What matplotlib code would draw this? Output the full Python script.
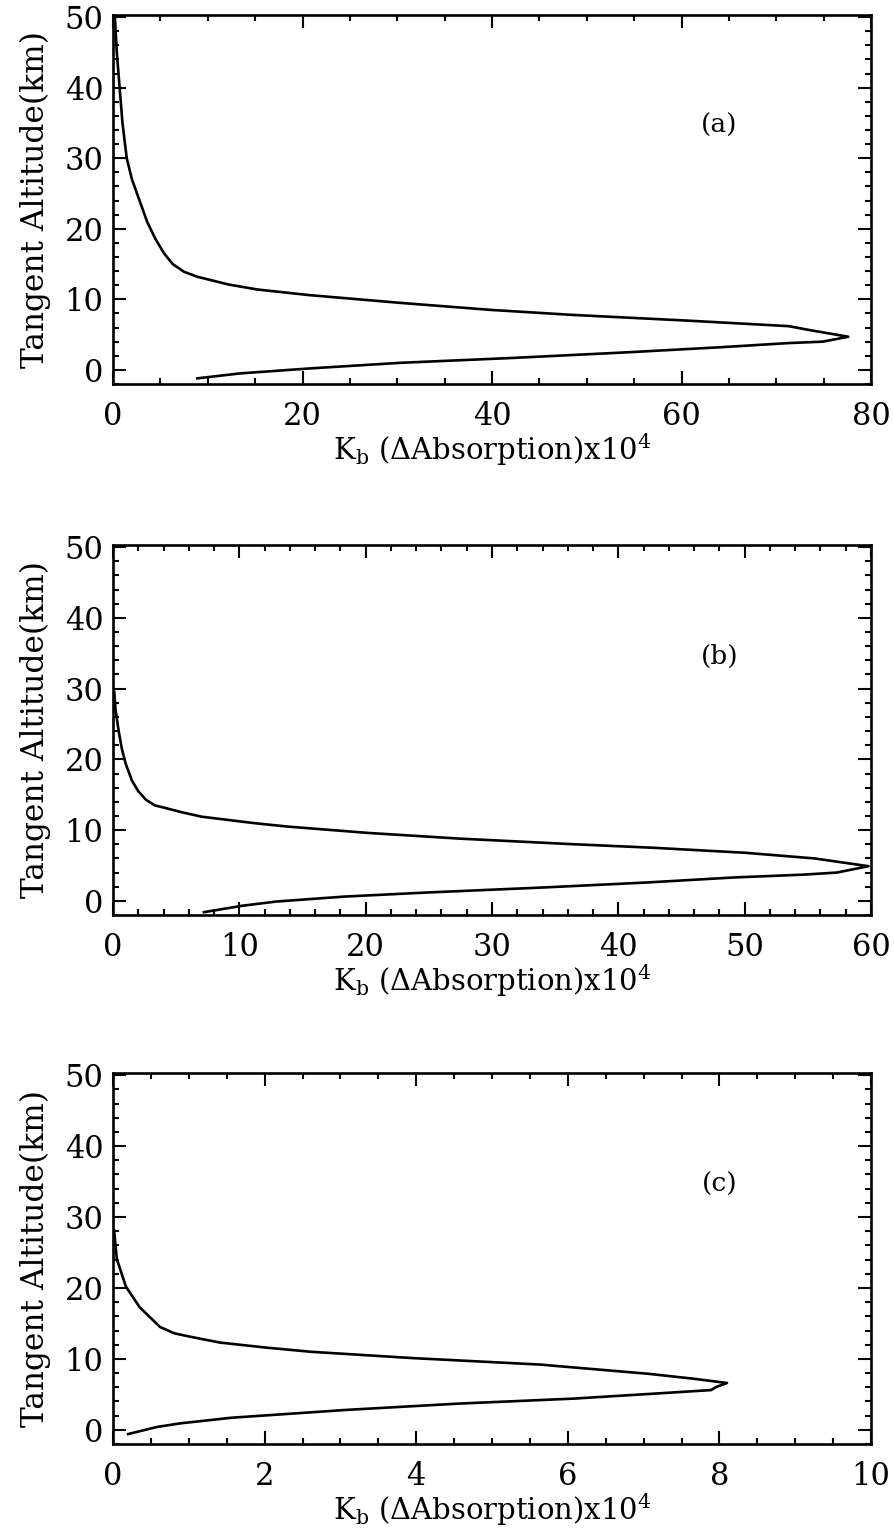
import matplotlib
matplotlib.use('Agg')
import matplotlib.pyplot as plt
from matplotlib.ticker import MultipleLocator

# panel (a)
a_x = [0.2, 0.4, 0.7, 1.0, 1.45, 2.0, 2.8, 3.6, 4.5, 5.4, 6.3, 7.5, 8.9, 12.2, 15.2, 20.7,
       30.3, 39.9, 48.4, 60.4, 71.3, 73.7, 77.6, 74.9, 71.3, 64.0, 54.4, 42.3, 30.3, 20.7,
       13.4, 8.9]
a_y = [50.0, 45.0, 40.0, 35.0, 30.0, 27.0, 24.0, 21.0, 18.5, 16.5, 15.0, 13.9, 13.2, 12.1,
       11.4, 10.6, 9.5, 8.5, 7.8, 7.0, 6.2, 5.6, 4.7, 4.0, 3.8, 3.2, 2.5, 1.7, 1.0, 0.2,
       -0.5, -1.2]

# panel (b)
b_x = [0.1, 0.2, 0.45, 0.7, 1.0, 1.5, 2.0, 2.6, 3.3, 4.2, 5.5, 7.0, 11.1, 13.8, 20.2, 27.4,
       36.5, 42.8, 50.0, 55.5, 59.8, 57.3, 54.6, 49.1, 42.3, 34.2, 25.1, 18.3, 12.9, 10.2,
       7.2]
b_y = [29.5, 27.0, 24.0, 21.5, 19.4, 17.0, 15.5, 14.3, 13.5, 13.1, 12.5, 11.9, 11.0, 10.5,
       9.6, 8.8, 8.0, 7.5, 6.8, 6.0, 4.9, 4.0, 3.7, 3.3, 2.6, 1.9, 1.2, 0.6, -0.1, -0.7,
       -1.6]

# panel (c)
c_x = [0.015, 0.05, 0.17, 0.35, 0.62, 0.81, 1.03, 1.41, 2.01, 2.61, 3.97, 5.63, 7.06, 7.66,
       8.1, 7.95, 7.89, 7.14, 6.08, 4.57, 3.07, 1.56, 0.88, 0.58, 0.2]
c_y = [28.1, 24.1, 20.2, 17.3, 14.5, 13.6, 13.1, 12.3, 11.6, 11.0, 10.1, 9.2, 7.9, 7.2,
       6.6, 6.0, 5.6, 5.1, 4.4, 3.7, 2.8, 1.7, 0.9, 0.4, -0.6]

panels = [
    (a_x, a_y, 80, 20, 5, '(a)'),
    (b_x, b_y, 60, 10, 2, '(b)'),
    (c_x, c_y, 10, 2, 0.5, '(c)'),
]

plt.rcParams['font.family'] = 'DejaVu Serif'
plt.rcParams['mathtext.fontset'] = 'dejavuserif'

W, H = 894, 1533
fig = plt.figure(figsize=(W / 100, H / 100), dpi=100)

# axes boxes in pixels: (top, bottom)
boxes = [(15, 384), (545, 915), (1073, 1444)]
left, right = 113, 871

for (xs, ys, xmax, major, minor, tag), (top, bot) in zip(panels, boxes):
    ax = fig.add_axes([left / W, 1 - bot / H, (right - left) / W, (bot - top) / H])
    ax.plot(xs, ys, color='black', lw=1.9)
    ax.set_xlim(0, xmax)
    ax.set_ylim(-2, 50.3)
    ax.xaxis.set_major_locator(MultipleLocator(major))
    ax.xaxis.set_minor_locator(MultipleLocator(minor))
    ax.yaxis.set_major_locator(MultipleLocator(10))
    ax.yaxis.set_minor_locator(MultipleLocator(2))
    ax.tick_params(which='both', direction='in', top=True, right=True, width=1.5)
    ax.tick_params(which='major', length=9.5)
    ax.tick_params(which='minor', length=4.5)
    ax.tick_params(axis='x', pad=12, labelsize=22)
    ax.tick_params(axis='y', pad=7, labelsize=22)
    for s in ax.spines.values():
        s.set_linewidth(1.9)
    ax.set_ylabel('Tangent Altitude(km)', fontsize=22.5, labelpad=10)
    ax.set_xlabel(r'K$_\mathrm{b}$ ($\Delta$Absorption)x10$^4$', fontsize=21, labelpad=0)
    ax.text(0.80, 0.70, tag, transform=ax.transAxes, fontsize=19, ha='center', va='center')

fig.savefig('out.png', dpi=100)
